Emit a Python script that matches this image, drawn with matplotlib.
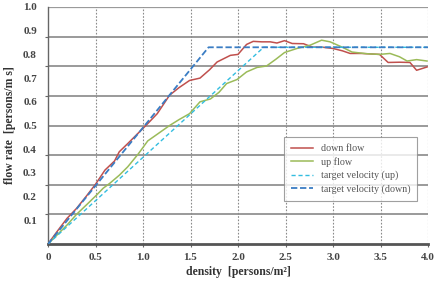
import matplotlib
matplotlib.use("Agg")
import matplotlib.pyplot as plt
import numpy as np

# ---- data ----
down_x = [0, 0.1, 0.2, 0.3, 0.4, 0.5, 0.6, 0.7, 0.75, 0.84, 0.95, 1.05, 1.15, 1.28, 1.38, 1.49, 1.6,
          1.7, 1.78, 1.92, 2.0, 2.09, 2.16, 2.25, 2.34, 2.41, 2.49, 2.57, 2.69, 2.78, 2.9, 3.0,
          3.1, 3.18, 3.3, 3.49, 3.58, 3.7, 3.81, 3.88, 3.99]
down_y = [0, 0.055, 0.108, 0.15, 0.2, 0.252, 0.312, 0.35, 0.389, 0.424, 0.468, 0.508, 0.55, 0.628,
          0.66, 0.69, 0.70, 0.735, 0.768, 0.796, 0.80, 0.842, 0.855, 0.853, 0.853, 0.848, 0.858,
          0.846, 0.845, 0.831, 0.83, 0.825, 0.815, 0.804, 0.804, 0.80, 0.766, 0.767, 0.766, 0.733, 0.747]

up_x = [0, 0.1, 0.2, 0.3, 0.42, 0.51, 0.58, 0.65, 0.75, 0.84, 0.95, 1.05, 1.16, 1.28, 1.38, 1.49,
        1.6, 1.71, 1.8, 1.88, 1.99, 2.09, 2.2, 2.3, 2.4, 2.49, 2.62, 2.76, 2.88, 2.97, 3.1, 3.2,
        3.35, 3.49, 3.6, 3.7, 3.78, 3.88, 3.99]
up_y = [0, 0.04, 0.08, 0.125, 0.171, 0.206, 0.235, 0.256, 0.29, 0.326, 0.38, 0.435, 0.466, 0.50,
        0.525, 0.55, 0.60, 0.612, 0.64, 0.677, 0.694, 0.726, 0.745, 0.751, 0.78, 0.808, 0.825,
        0.839, 0.86, 0.853, 0.83, 0.81, 0.803, 0.80, 0.804, 0.79, 0.772, 0.778, 0.772]

tv_up_x = [0, 2.27, 4.0]
tv_up_y = [0, 0.83, 0.83]
tv_down_x = [0, 1.69, 4.0]
tv_down_y = [0, 0.83, 0.83]

x_ticks = [0, 0.5, 1.0, 1.5, 2.0, 2.5, 3.0, 3.5, 4.0]
x_ticklabels = ["0", "0.5", "1.0", "1.5", "2.0", "2.5", "3.0", "3.5", "4.0"]
y_ticks = [0.1, 0.2, 0.3, 0.4, 0.5, 0.6, 0.7, 0.8, 0.9, 1.0]
y_ticklabels = ["0.1", "0.2", "0.3", "0.4", "0.5", "0.6", "0.7", "0.8", "0.9", "1.0"]
grid_levels = [0.125, 0.25, 0.375, 0.5, 0.625, 0.75, 0.875, 1.0]

# ---- figure ----
plt.rcParams['font.family'] = ['Liberation Serif', 'DejaVu Serif']
fig = plt.figure(figsize=(4.36, 2.85), dpi=100)
ax = fig.add_axes([48/436, 41/285, 380/436, 237/285])

ax.set_xlim(0, 4.0)
ax.set_ylim(0, 1.0)

# gridlines
for g in grid_levels:
    ax.axhline(g, color="#9a9a9a" if g == 1.0 else "#7f7f7f", lw=1.1 if g < 1 else 0.9, zorder=1)
for xv in x_ticks[1:]:
    ax.axvline(xv, color="#8a8a8a", lw=0.8, ls=(0, (1.5, 1.5)), zorder=1)

ax.plot(down_x, down_y, color="#c0504d", lw=1.1, label="down flow", zorder=3)
ax.plot(up_x, up_y, color="#9bbb59", lw=1.1, label="up flow", zorder=3)
ax.plot(tv_up_x, tv_up_y, color="#33bde0", lw=1.0, ls=(0, (3, 2)), label="target velocity (up)", zorder=4)
ax.plot(tv_down_x, tv_down_y, color="#3a7dc4", lw=1.3, ls=(0, (3.5, 1.5)), label="target velocity (down)", zorder=4)

# ticks
ax.set_xticks(x_ticks)
ax.set_xticklabels(x_ticklabels, fontsize=8, color="#444444", fontweight="bold")
ax.set_yticks(y_ticks)
ax.set_yticklabels(y_ticklabels, fontsize=8, color="#444444", fontweight="bold")
ax.tick_params(axis="y", length=0, pad=8)
ax.tick_params(axis="x", length=2.5, width=0.8, color="#666666", pad=4)
ax.set_yticks(grid_levels, minor=True)
ax.tick_params(axis="y", which="minor", length=2.5, width=0.8, color="#666666")

for s in ["top", "right"]:
    ax.spines[s].set_visible(False)
ax.spines["left"].set_color("#666666")
ax.spines["left"].set_linewidth(1.0)
ax.spines["bottom"].set_color("#555555")
ax.spines["bottom"].set_linewidth(2.0)

ax.set_xlabel("density  [persons/m\u00b2]", fontsize=8.5, fontweight="bold", color="#333333", labelpad=3)
ax.set_ylabel("flow rate  [persons/m s]", fontsize=8.5, fontweight="bold", color="#333333", labelpad=5)

leg = ax.legend(loc="lower right", bbox_to_anchor=(0.985, 0.16), fontsize=7.2, frameon=True,
                fancybox=False, edgecolor="#888888", handlelength=2.2, borderpad=0.7,
                labelspacing=0.4)
leg.get_frame().set_linewidth(0.8)
for t in leg.get_texts():
    t.set_color("#555555")

fig.savefig("out.png", dpi=100)
